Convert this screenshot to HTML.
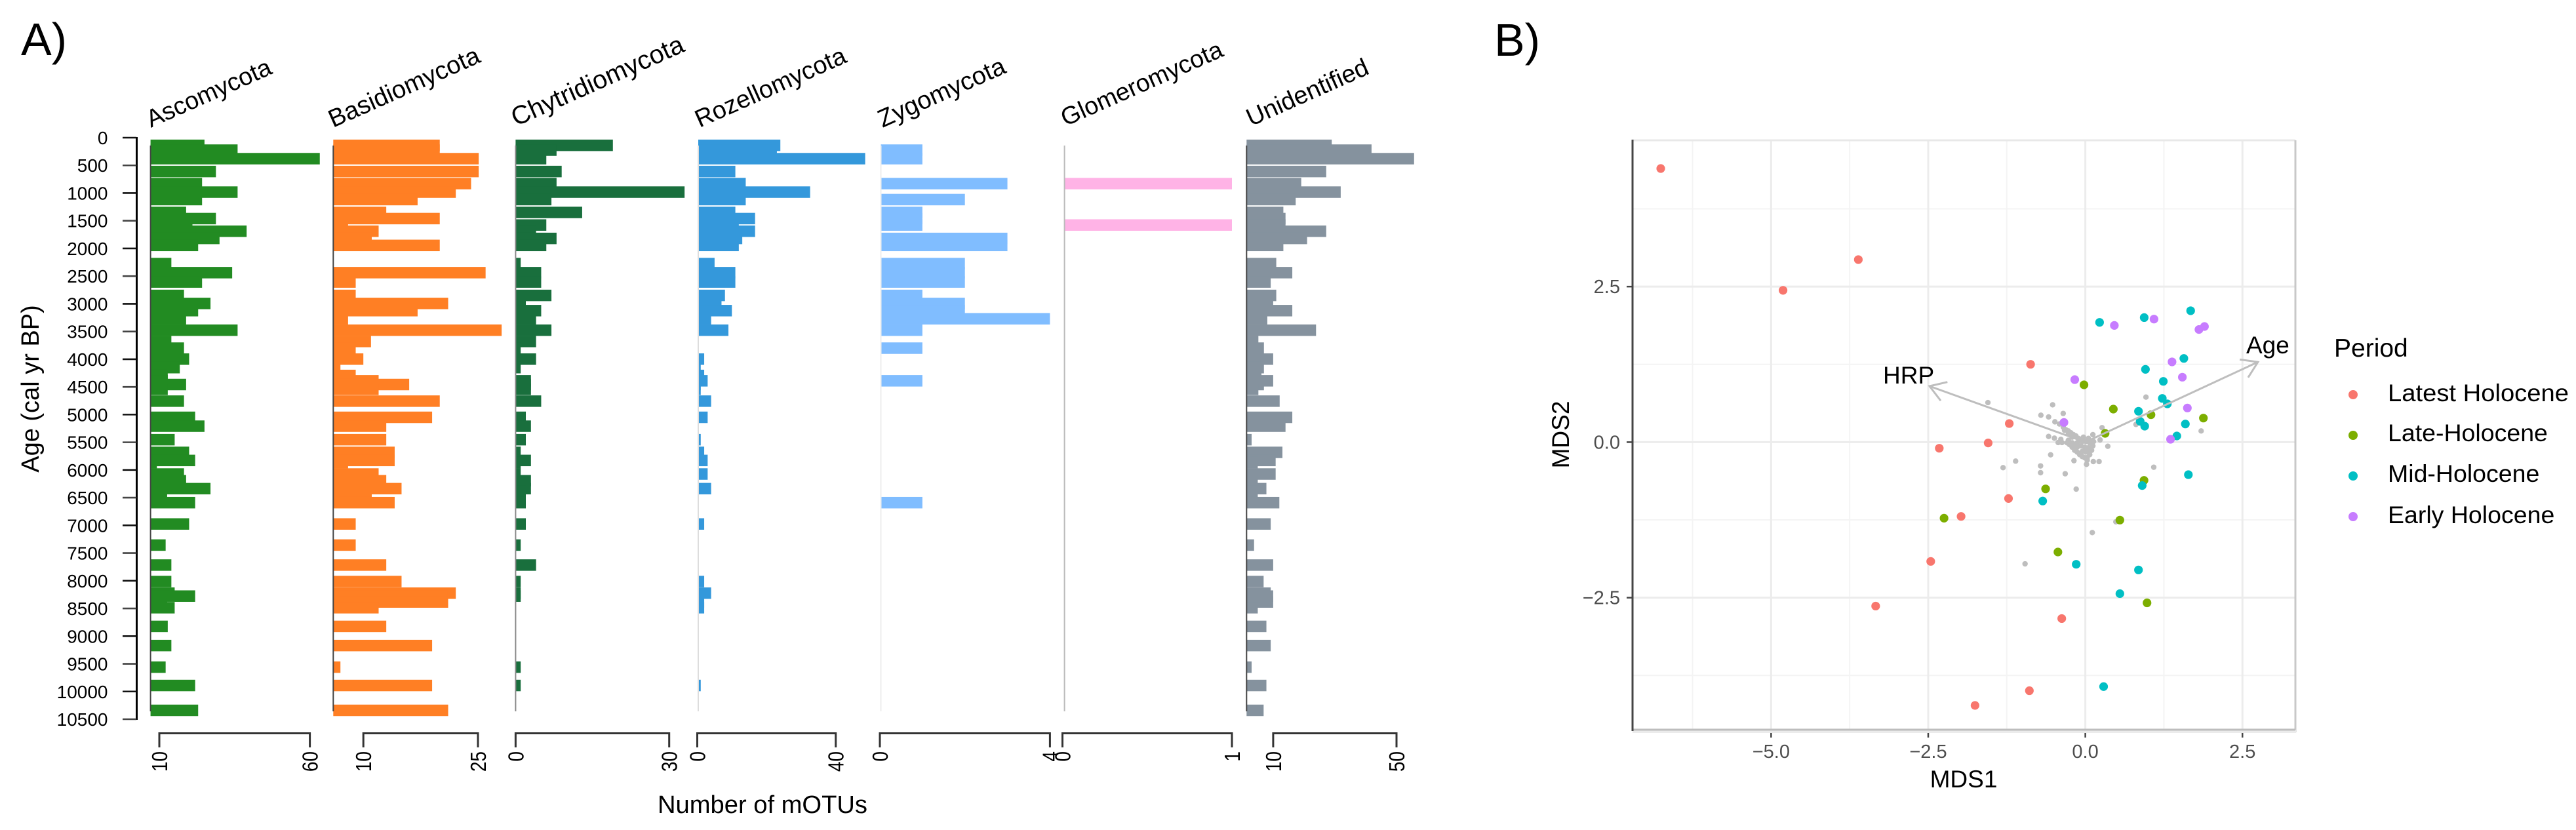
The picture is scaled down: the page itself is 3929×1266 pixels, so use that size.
<!DOCTYPE html>
<html lang="en">
<head>
<meta charset="utf-8">
<title>Fungal mOTU stratigraphy and NMDS ordination</title>
<style>
html,body{margin:0;padding:0;background:#fff;width:3929px;height:1266px;overflow:hidden}
svg{display:block}
text{font-family:"Liberation Sans",sans-serif;fill:#000}
</style>
</head>
<body>
<svg id="chart" xmlns="http://www.w3.org/2000/svg" width="3929" height="1266" viewBox="0 0 3929 1266">
<rect x="0" y="0" width="3929" height="1266" fill="#fff"/>
<text x="32" y="84" font-size="70">A)</text>
<text x="2279" y="85" font-size="70">B)</text>
<text transform="translate(59,593) rotate(-90)" text-anchor="middle" font-size="38">Age (cal yr BP)</text>
<text x="1003" y="1240" font-size="38" textLength="320" lengthAdjust="spacingAndGlyphs">Number of mOTUs</text>
<text transform="translate(230,195) rotate(-24)" font-size="37.6">Ascomycota</text>
<text transform="translate(508,195) rotate(-24)" font-size="38.2">Basidiomycota</text>
<text transform="translate(787,193) rotate(-24)" font-size="39.6">Chytridiomycota</text>
<text transform="translate(1067,195) rotate(-24)" font-size="37.8">Rozellomycota</text>
<text transform="translate(1346,195) rotate(-24)" font-size="38.3">Zygomycota</text>
<text transform="translate(1625,193) rotate(-24)" font-size="37.7">Glomeromycota</text>
<text transform="translate(1908,193) rotate(-24)" font-size="37.8">Unidentified</text>
<text x="2995" y="1201" text-anchor="middle" font-size="37">MDS1</text>
<text transform="translate(2393,663) rotate(-90)" text-anchor="middle" font-size="37">MDS2</text>
<text x="3560" y="544" font-size="39">Period</text>
<g id="strat"></g>
<g id="ord"></g>
<text x="2872" y="585" font-size="37">HRP</text>
<text x="3426" y="539" font-size="37">Age</text>
<circle cx="3589" cy="602" r="7" fill="#F8766D"/>
<text x="3642" y="612" font-size="37.5" textLength="276" lengthAdjust="spacingAndGlyphs">Latest Holocene</text>
<circle cx="3589" cy="664" r="7" fill="#7CAE00"/>
<text x="3642" y="673" font-size="37.5">Late-Holocene</text>
<circle cx="3589" cy="726" r="7" fill="#00BFC4"/>
<text x="3642" y="735" font-size="37.5">Mid-Holocene</text>
<circle cx="3589" cy="788" r="7" fill="#C77CFF"/>
<text x="3642" y="798" font-size="37.5">Early Holocene</text>
</svg>
<script>
/* ---------- Panel A data ---------- */
const ages = [138,225,379,611,829,983,1118,1350,1461,1577,1689,1819,1945,2273,2437,2606,2848,2993,3123,3270,3476,3680,3800,3998,4152,4293,4390,4457,4544,4757,5049,5209,5453,5682,5828,5868,6073,6194,6337,6385,6590,6975,7356,7717,8014,8224,8277,8384,8487,8824,9170,9560,9891,10340];
const ascomycota = [25,36,63.3,28.8,24.2,36,24.2,18.9,28.8,21,39,30,22.9,14,34.2,24.2,18.2,27,22.9,18.9,36,14,18.2,19.9,16.8,12.8,12.8,18.9,12.8,18.2,21.9,25,15.1,19.9,21.9,9.2,18.2,18.9,27,12.6,21.9,19.9,12.1,14,14,15.1,21.9,12.6,15.1,12.8,14,12.1,21.9,22.9];
const basidiomycota = [20,20,25.1,25.1,24.1,22.1,17.1,13,20,8,12,11.1,20,6,26,9,9,21.1,17.1,8,28.1,11,9,10,7,9,12,16,12,20,19,13,13,14.1,14.1,8,12,13,15,11.1,14.1,9,9,13,15,22.1,21,21.1,12,13,19,7,19,21.1];
const chytridiomycota = [19,8,6,9,8,33,7,13,0,6,4,8,6,1,5,5,7,2,5,4,7,4,1,4,1,0,3,3,3,5,2,3,2,1,3,1,1,3,3,2,2,2,1,4,1,1,1,0,0,0,0,1,1,0];
const rozellomycota = [24,23,48.5,11,14,32.6,14,11,16.7,12,16.7,13,12,5,11,11,8,7,10,4,9,0,0,2,1,2,3,1,1,4,3,0,1,2,3,0,3,0,4,0,0,2,0,0,2,4,1,2,2,0,0,0,1,0];
const zygomycota = [0,1,1,0,3,0,2,1,1,1,0,3,3,2,2,2,1,2,2,4,1,0,1,0,0,0,1,0,0,0,0,0,0,0,0,0,0,0,0,0,1,0,0,0,0,0,0,0,0,0,0,0,0,0];
const glomeromycota = [0,0,0,0,1,0,0,0,0,1,0,0,0,0,0,0,0,0,0,0,0,0,0,0,0,0,0,0,0,0,0,0,0,0,0,0,0,0,0,0,0,0,0,0,0,0,0,0,0,0,0,0,0,0];
const unidentified = [29,41.9,55.7,27.2,19.1,31.9,17.3,13.3,14,14,27.2,21,13.3,11,16.2,9.2,11,10,16.2,8.1,23.9,5.2,7,10,7,6.2,10,7,5.2,12.1,16.2,14,3,13,10.8,5,10.8,5,7.8,5,12,9.2,3.8,10,6.9,9.2,10,10,5,7.8,9.2,3,7.8,6.9];
const ageTickValues = [0,500,1000,1500,2000,2500,3000,3500,4000,4500,5000,5500,6000,6500,7000,7500,8000,8500,9000,9500,10000,10500];

/* ---------- Panel B data ---------- */
const latestX = [-6.756,-4.810,-3.612,-0.871,-1.210,-1.546,-2.324,-1.222,-1.977,-2.460,-3.336,-0.375,-0.890,-1.755];
const latestY = [4.398,2.440,2.934,1.251,0.299,-0.013,-0.098,-0.906,-1.194,-1.917,-2.635,-2.835,-3.995,-4.232];
const lateX = [-0.021,0.446,1.045,0.315,1.879,0.934,-0.632,-2.248,0.550,-0.436,0.982];
const lateY = [0.921,0.531,0.440,0.141,0.387,-0.614,-0.751,-1.222,-1.253,-1.766,-2.583];
const midX = [0.227,0.937,1.676,1.568,0.957,1.241,1.225,1.305,0.846,0.873,0.945,1.592,1.456,1.640,0.905,-0.678,-0.145,0.846,0.550,0.291];
const midY = [1.925,2.002,2.112,1.346,1.170,0.977,0.703,0.615,0.496,0.334,0.257,0.292,0.099,-0.523,-0.698,-0.946,-1.963,-2.054,-2.435,-3.929];
const earlyX = [0.462,1.093,1.808,1.896,1.380,1.544,-0.168,1.624,-0.340,1.356];
const earlyY = [1.876,1.978,1.810,1.859,1.290,1.044,1.005,0.549,0.317,0.046];
const speciesX = [-1.55,-0.52,-0.352,-0.707,-0.584,-0.484,-0.412,0.266,0.806,0.965,1.843,-0.584,-0.492,-0.39,-0.432,-0.372,0.235,0.358,-0.552,-1.109,-1.309,-0.712,-0.712,-0.32,1.089,-0.145,0.486,0.111,-0.959,-0.181,0.127,0.219,0.019,-0.29,-0.25,-0.21,-0.17,-0.13,-0.09,-0.05,-0.01,0.03,0.07,0.1,0.12,0.13,0.12,0.05,-0.03,-0.09,-0.05,0.01,0.07,-0.13,-0.07,-0.01,0.05,-0.13,-0.05,0.01,0.05,-0.17,-0.21,-0.27,-0.35,-0.31,-0.27,-0.23,-0.19,-0.15,-0.11,-0.33,-0.27,-0.21,0.03];
const speciesY = [0.636,0.60,0.461,0.433,0.405,0.327,0.292,0.233,0.285,0.724,0.18,0.092,0.064,0.046,-0.006,-0.006,0.036,-0.066,-0.203,-0.305,-0.41,-0.382,-0.491,-0.508,-0.403,-0.755,-1.281,-1.453,-1.956,-0.298,-0.312,-0.312,-0.357,-0.01,-0.04,-0.08,-0.13,-0.16,-0.2,-0.23,-0.25,-0.25,-0.2,-0.13,-0.06,0.01,0.12,0.06,0.08,0.05,0.01,0.01,-0.01,-0.01,-0.06,-0.08,-0.09,-0.08,-0.15,-0.16,-0.16,-0.04,-0.01,0.03,0.24,0.2,0.18,0.15,0.12,0.1,0.06,0.19,0.13,0.08,-0.29];
const arrowNames = ['HRP','Age'];
const arrowX = [-2.479,2.747];
const arrowY = [0.900,1.288];
const mdsXTicks = [-5,-2.5,0,2.5];
const mdsXTickLabels = ['\u22125.0','\u22122.5','0.0','2.5'];
const mdsYTicks = [2.5,0,-2.5];
const mdsYTickLabels = ['2.5','0.0','\u22122.5'];
const mdsXMinor = [-6.25,-3.75,-1.25,1.25];
const mdsYMinor = [3.75,1.25,-1.25,-3.75];

/* ---------- helpers ---------- */
const NS = 'http://www.w3.org/2000/svg';
function make(tag, parent, props) {
  const el = document.createElementNS(NS, tag);
  for (const k in props) el.setAttribute(k, props[k]);
  parent.appendChild(el);
  return el;
}

/* ---------- Panel A ---------- */
const strat = document.getElementById('strat');
const yAge = a => 210 + a * (1097 - 210) / 10500;
const BAR_H = 17.5;

const taxa = [
  {key:'ascomycota', values:ascomycota, color:'#228b22', line:'#444', base:229.6, t0:10, t1:60, p0:243, p1:472.6},
  {key:'basidiomycota', values:basidiomycota, color:'#ff7f24', line:'#444', base:508.3, t0:10, t1:25, p0:554.2, p1:729},
  {key:'chytridiomycota', values:chytridiomycota, color:'#196f3d', line:'#888', base:786.4, t0:0, t1:30, p0:786.4, p1:1020.7},
  {key:'rozellomycota', values:rozellomycota, color:'#3498db', line:'#ddd', base:1065, t0:0, t1:40, p0:1063.5, p1:1274.7},
  {key:'zygomycota', values:zygomycota, color:'#80bdff', line:'#eee', base:1343.5, t0:0, t1:4, p0:1342, p1:1601.4},
  {key:'glomeromycota', values:glomeromycota, color:'#ffb3e6', line:'#bbb', base:1623.6, t0:0, t1:1, p0:1620.5, p1:1879},
  {key:'unidentified', values:unidentified, color:'#85929e', line:'#444', base:1901.3, t0:10, t1:50, p0:1941.9, p1:2130}
];

taxa.forEach(t => {
  const g = make('g', strat, {});
  
  
  const xs = v => t.p0 + (v - t.t0) * (t.p1 - t.p0) / (t.t1 - t.t0);
  t.values.forEach((v, i) => {
    const right = xs(v);
    if (right <= t.base + 0.5) return;
    const bar = make('rect', g, {x: t.base, y: yAge(ages[i]) - BAR_H / 2, width: right - t.base, height: BAR_H, fill: t.color});
    
    
  });
  const baseLine = make('line', g, {x1: t.base, x2: t.base, y1: 222, y2: 1085, stroke: t.line, 'stroke-width': 2});
  
  

  const axis = make('path', g, {d: 'M' + t.p0 + ' 1140V1118.5H' + t.p1 + 'V1140', fill: 'none', stroke: '#333', 'stroke-width': 3});
  
  
  [t.t0, t.t1].forEach(tv => {
    const lab = make('text', g, {transform: 'translate(' + (xs(tv) + 12) + ',1146) rotate(-90) scale(1,1.2)', 'text-anchor': 'end', 'font-size': 28});
    lab.textContent = String(tv);
    
    
  });
});

const ageAxis = make('line', strat, {x1: 208.5, x2: 208.5, y1: 209, y2: 1098, stroke: '#000', 'stroke-width': 3});


ageTickValues.forEach(a => {
  const tick = make('line', strat, {x1: 187, x2: 208, y1: yAge(a), y2: yAge(a), stroke: a % 1000 === 0 ? '#111' : '#444', 'stroke-width': 2.6});
  
  
  const lab = make('text', strat, {x: 164.5, y: yAge(a) + 10, 'text-anchor': 'end', 'font-size': 28});
  lab.textContent = String(a);
  
  
});

/* ---------- Panel B ---------- */
const ord = document.getElementById('ord');
const L = 2490, R = 3501, T = 214, B = 1113;
const xMds = v => 3180.6 + v * 95.85;
const yMds = v => 674.4 - v * 94.9;

mdsXMinor.forEach(v => {
  const g = make('line', ord, {x1: xMds(v), x2: xMds(v), y1: T, y2: B, stroke: '#f4f4f4', 'stroke-width': 2});
  
  
});
mdsYMinor.forEach(v => {
  const g = make('line', ord, {x1: L, x2: R, y1: yMds(v), y2: yMds(v), stroke: '#f4f4f4', 'stroke-width': 2});
  
  
});
mdsXTicks.forEach((v, i) => {
  const g = make('line', ord, {x1: xMds(v), x2: xMds(v), y1: T, y2: B, stroke: '#ececec', 'stroke-width': 3});
  
  
  const tick = make('line', ord, {x1: xMds(v), x2: xMds(v), y1: B, y2: 1125, stroke: '#444', 'stroke-width': 2.5});
  
  
  const lab = make('text', ord, {x: xMds(v), y: 1156, 'text-anchor': 'middle', 'font-size': 29, style: 'fill:#4d4d4d'});
  lab.textContent = mdsXTickLabels[i];
  
  
});
mdsYTicks.forEach((v, i) => {
  const g = make('line', ord, {x1: L, x2: R, y1: yMds(v), y2: yMds(v), stroke: '#ececec', 'stroke-width': 3});
  
  
  const tick = make('line', ord, {x1: 2481, x2: L, y1: yMds(v), y2: yMds(v), stroke: '#444', 'stroke-width': 2.5});
  
  
  const lab = make('text', ord, {x: 2471, y: yMds(v) + 10, 'text-anchor': 'end', 'font-size': 29, style: 'fill:#4d4d4d'});
  lab.textContent = mdsYTickLabels[i];
  
  
});

const topBorder = make('line', ord, {x1: L, x2: R, y1: T, y2: T, stroke: '#e8e8e8', 'stroke-width': 3});


const rightBorder = make('line', ord, {x1: R, x2: R, y1: T, y2: 1117, stroke: '#c8c8c8', 'stroke-width': 3});


const bottomBand = make('rect', ord, {x: L, y: 1113, width: R - L + 1, height: 5, fill: '#ebebeb'});


const bottomBorder = make('line', ord, {x1: L, x2: R, y1: B, y2: B, stroke: '#bdbdbd', 'stroke-width': 3});


const leftAxis = make('line', ord, {x1: L, x2: L, y1: T - 1, y2: B + 2, stroke: '#444', 'stroke-width': 3});



speciesX.forEach((v, i) => {
  const p = make('circle', ord, {cx: xMds(v), cy: yMds(speciesY[i]), r: 4.2, fill: '#bebebe'});
  
  
});

const periods = [
  {key:'latest-holocene', xs:latestX, ys:latestY, color:'#F8766D'},
  {key:'late-holocene', xs:lateX, ys:lateY, color:'#7CAE00'},
  {key:'mid-holocene', xs:midX, ys:midY, color:'#00BFC4'},
  {key:'early-holocene', xs:earlyX, ys:earlyY, color:'#C77CFF'}
];
periods.forEach(s => {
  s.xs.forEach((v, i) => {
    const p = make('circle', ord, {cx: xMds(v), cy: yMds(s.ys[i]), r: 6.6, fill: s.color});
    
    
  });
});

arrowX.forEach((v, i) => {
  const x0 = xMds(0), y0 = yMds(0), x1 = xMds(v), y1 = yMds(arrowY[i]);
  const ang = Math.atan2(y1 - y0, x1 - x0);
  const len = 28, spread = Math.PI / 5.5;
  const ax = x1 - len * Math.cos(ang - spread), ay = y1 - len * Math.sin(ang - spread);
  const bx = x1 - len * Math.cos(ang + spread), by = y1 - len * Math.sin(ang + spread);
  const a = make('path', ord, {d: 'M' + x0 + ' ' + y0 + 'L' + x1 + ' ' + y1 + 'M' + ax + ' ' + ay + 'L' + x1 + ' ' + y1 + 'L' + bx + ' ' + by, fill: 'none', stroke: '#bebebe', 'stroke-width': 3});
  
  
});
</script>
</body>
</html>
